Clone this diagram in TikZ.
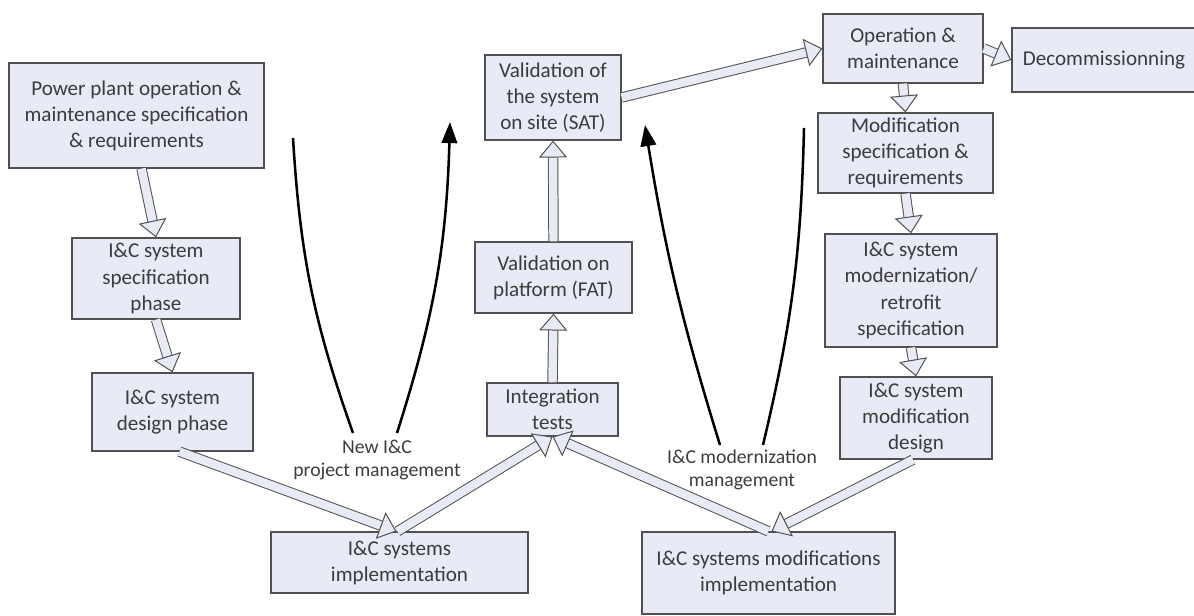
\documentclass[tikz,border=0pt]{standalone}
\usepackage{fontspec}
\setmainfont{Carlito}
\usetikzlibrary{arrows.meta,
                calc}
\definecolor{boxfill}{HTML}{E8EAF5}
\definecolor{edgegray}{HTML}{505050}
\definecolor{textgray}{HTML}{3C3C3C}
\tikzset{block/.style=
   {rectangle,
    draw=edgegray,
    fill=boxfill,
    line width=0.9pt,
    text=textgray,
    align=center,
    inner sep=0pt,
    font=\fontsize{15}{18.5}\selectfont}}
\tikzset{hollow/.style = {draw=edgegray, line width=0.7pt,
    double=boxfill, double distance=6pt,
    -{Triangle[fill=boxfill, length=12pt, width=20pt]}}}
\tikzset{curve/.style = {draw, line width=1.8pt}}
\tikzset{arrow/.style = {curve, -{Triangle[length=15pt, width=11pt]}}}
\tikzset{note/.style = {text=textgray, align=center,
    font=\fontsize{14}{16}\selectfont}}

\begin{document}
\begin{tikzpicture}[x=0.025cm, y=-0.025cm]
    \useasboundingbox (0,0) rectangle (1194,616);

    % Blocks
    \node [block, minimum width=6.375cm, minimum height=2.625cm] (plant) at (136.5,115.5)
        {Power plant operation \&\\maintenance specification\\\& requirements};
    \node [block, minimum width=4.2cm, minimum height=2.025cm] (spec) at (156,278.5)
        {I\&C system\\specification\\phase};
    \node [block, minimum width=4.025cm, minimum height=1.95cm] (design) at (172.5,412)
        {I\&C system\\design phase};
    \node [block, minimum width=6.425cm, minimum height=1.525cm] (impl) at (399.5,562.5)
        {I\&C systems\\implementation};
    \node [block, minimum width=3.275cm, minimum height=1.325cm] (integ) at (552.5,409.5)
        {Integration\\tests};
    \node [block, minimum width=3.925cm, minimum height=1.775cm] (fat) at (553.5,277.5)
        {Validation on\\platform (FAT)};
    \node [block, minimum width=3.4cm, minimum height=2.125cm] (sat) at (553,97.5)
        {Validation of\\the system\\on site (SAT)};
    \node [block, minimum width=4.0cm, minimum height=1.725cm] (oper) at (903,48.5)
        {Operation \&\\maintenance};
    \node [block, minimum width=4.6cm, minimum height=1.6cm] (decom) at (1104,60)
        {Decommissionning};
    \node [block, minimum width=4.375cm, minimum height=2.0cm] (modspec) at (905.5,153)
        {Modification\\specification \&\\requirements};
    \node [block, minimum width=4.3cm, minimum height=2.825cm] (retro) at (911,290.5)
        {I\&C system\\modernization/\\retrofit\\specification};
    \node [block, minimum width=3.8cm, minimum height=2.05cm] (moddes) at (916,418)
        {I\&C system\\modification\\design};
    \node [block, minimum width=6.325cm, minimum height=2.05cm] (modimpl) at (768.5,573)
        {I\&C systems modifications\\implementation};

    % Management labels
    \node [note] (newmgmt) at (377,460) {New I\&C\\project management};
    \node [note] (modmgmt) at (742,470) {I\&C modernization\\management};

    \coordinate (newtop) at (293,138);
    \coordinate (newleft) at (353,433);
    \coordinate (newright) at (397,433);
    \coordinate (newhead) at (450,122);
    \coordinate (modtop) at (804,128);
    \coordinate (modright) at (763,445);
    \coordinate (modleft) at (720,445);
    \coordinate (modhead) at (645,125);

    % Draw edges
    \path [hollow] ($(plant.south)+(5,0)$) -- (spec.north);
    \path [hollow] (spec.south) -- (design.north);
    \path [hollow] ($(design.south)+(7,0)$) -- ($(impl.north)+(-3,0)$);
    \path [hollow] ($(impl.north)+(-2,0)$) -- (integ.south);
    \path [hollow] (modimpl.north) -- (integ.south);
    \path [hollow] ($(moddes.south)+(-3,0)$) -- ($(modimpl.north)+(3,0)$);
    \path [hollow] (integ.north) -- (fat.south);
    \path [hollow] (fat.north) -- (sat.south);
    \path [hollow] (sat.east) -- (oper.west);
    \path [hollow] (oper.east) -- (decom.west);
    \path [hollow] (oper.south) -- (modspec.north);
    \path [hollow] (modspec.south) -- (retro.north);
    \path [hollow] (retro.south) -- (moddes.north);

    \path [curve] (newtop) to[bend right=8] (newleft);
    \path [arrow] (newright) to[bend right=8] (newhead);
    \path [curve] (modtop) to[bend left=6] (modright);
    \path [arrow] (modleft) to[bend left=4] (modhead);

\end{tikzpicture}
\end{document}
